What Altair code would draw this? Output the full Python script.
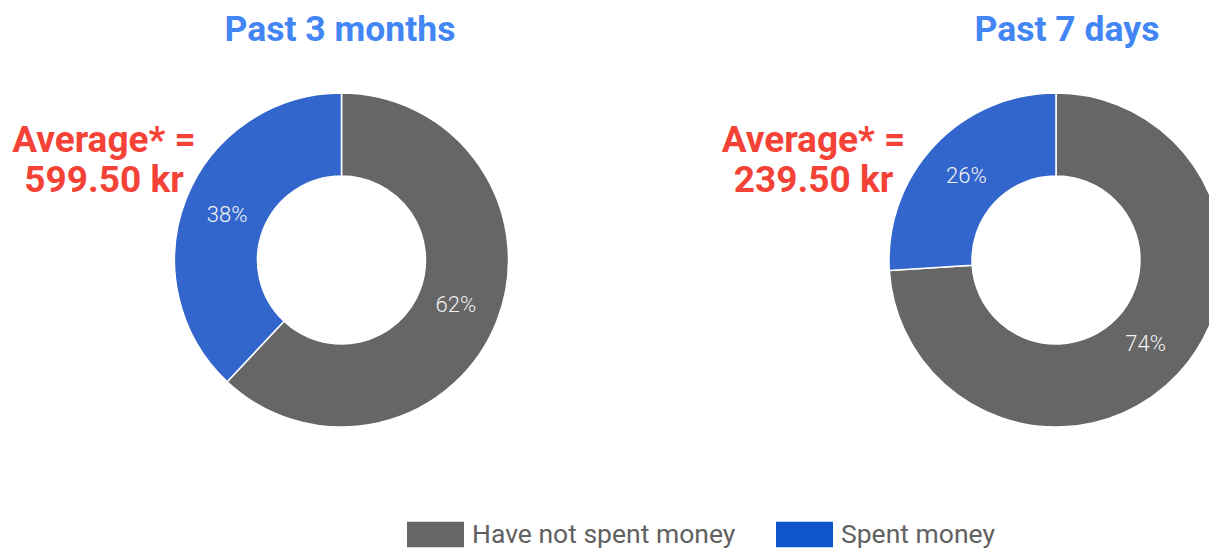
import altair as alt
import pandas as pd

# ---- data ----
periods = ["Past 3 months", "Past 7 days"]
categories = ["Have not spent money", "Spent money"]
values_3m = [62, 38]
values_7d = [74, 26]
averages = ["599.50 kr", "239.50 kr"]

pie_colors = ["#666666", "#3366cc"]
legend_colors = ["#666666", "#1155cc"]

rows = []
for cat, v in zip(categories, values_3m):
    rows.append({"period": periods[0], "category": cat, "value": v})
for cat, v in zip(categories, values_7d):
    rows.append({"period": periods[1], "category": cat, "value": v})
df = pd.DataFrame(rows)

FONT = "Roboto"
centers = {periods[0]: (333.5, 252), periods[1]: (1048, 252)}
title_x = {periods[0]: 332, periods[1]: 1059}
avg_x = {periods[0]: 96, periods[1]: 805.5}

base = alt.Chart(df)
layers = []
for i, p in enumerate(periods):
    cx, cy = centers[p]
    sub = base.transform_filter(alt.datum.period == p)
    arc = sub.mark_arc(
        x=cx, y=cy, radius=167, radius2=84, stroke="white", strokeWidth=1.5
    ).encode(
        theta=alt.Theta("value:Q", stack=True),
        color=alt.Color(
            "category:N",
            scale=alt.Scale(domain=categories, range=pie_colors),
            legend=None,
        ),
        order=alt.Order("category:N", sort="ascending"),
    )
    lab = sub.transform_calculate(label="datum.value + '%'").mark_text(
        x=cx, y=cy, radius=123, font=FONT, fontSize=22, fontWeight=300,
        color="#f2f2f2", align="center", baseline="middle",
    ).encode(
        theta=alt.Theta("value:Q", stack=True),
        text="label:N",
        order=alt.Order("category:N", sort="ascending"),
    )
    title = alt.Chart(pd.DataFrame({"t": [p]})).mark_text(
        x=title_x[p], y=33, font=FONT, fontSize=35.5, fontWeight="bold",
        color="#4285f4", align="center", baseline="alphabetic",
    ).encode(text="t:N")
    avg = alt.Chart(pd.DataFrame({"a": [averages[i]]})).mark_text(
        x=avg_x[p], y=144, font=FONT, fontSize=37, fontWeight="bold",
        color="#f44336", align="center", baseline="alphabetic", lineHeight=40,
    ).encode(text=alt.value(["Average* =", averages[i]]))
    layers += [arc, lab, title, avg]

legend_layer = alt.Chart(pd.DataFrame({"category": categories})).transform_filter(
    "false"
).mark_point(filled=True).encode(
    color=alt.Color(
        "category:N",
        scale=alt.Scale(domain=categories, range=legend_colors),
        legend=alt.Legend(
            title=None,
            orient="none",
            legendX=399,
            legendY=498,
            direction="horizontal",
            symbolType="M-1,-0.45H1V0.45H-1Z",
            symbolSize=3249,
            symbolStrokeWidth=0,
            symbolOpacity=1,
            labelFont=FONT,
            labelFontSize=26.5,
            labelColor="#616161",
            labelOffset=8,
            labelLimit=600,
            columnPadding=40,
            padding=0,
        ),
    )
)
layers.append(legend_layer)

chart = alt.layer(*layers).resolve_scale(color="independent").properties(
    width=1201,
    height=542,
    autosize=alt.AutoSizeParams(type="none"),
    padding=0,
    background="white",
).configure_view(stroke=None)

chart.save("out.html", embed_options={"renderer": "svg", "actions": False})
